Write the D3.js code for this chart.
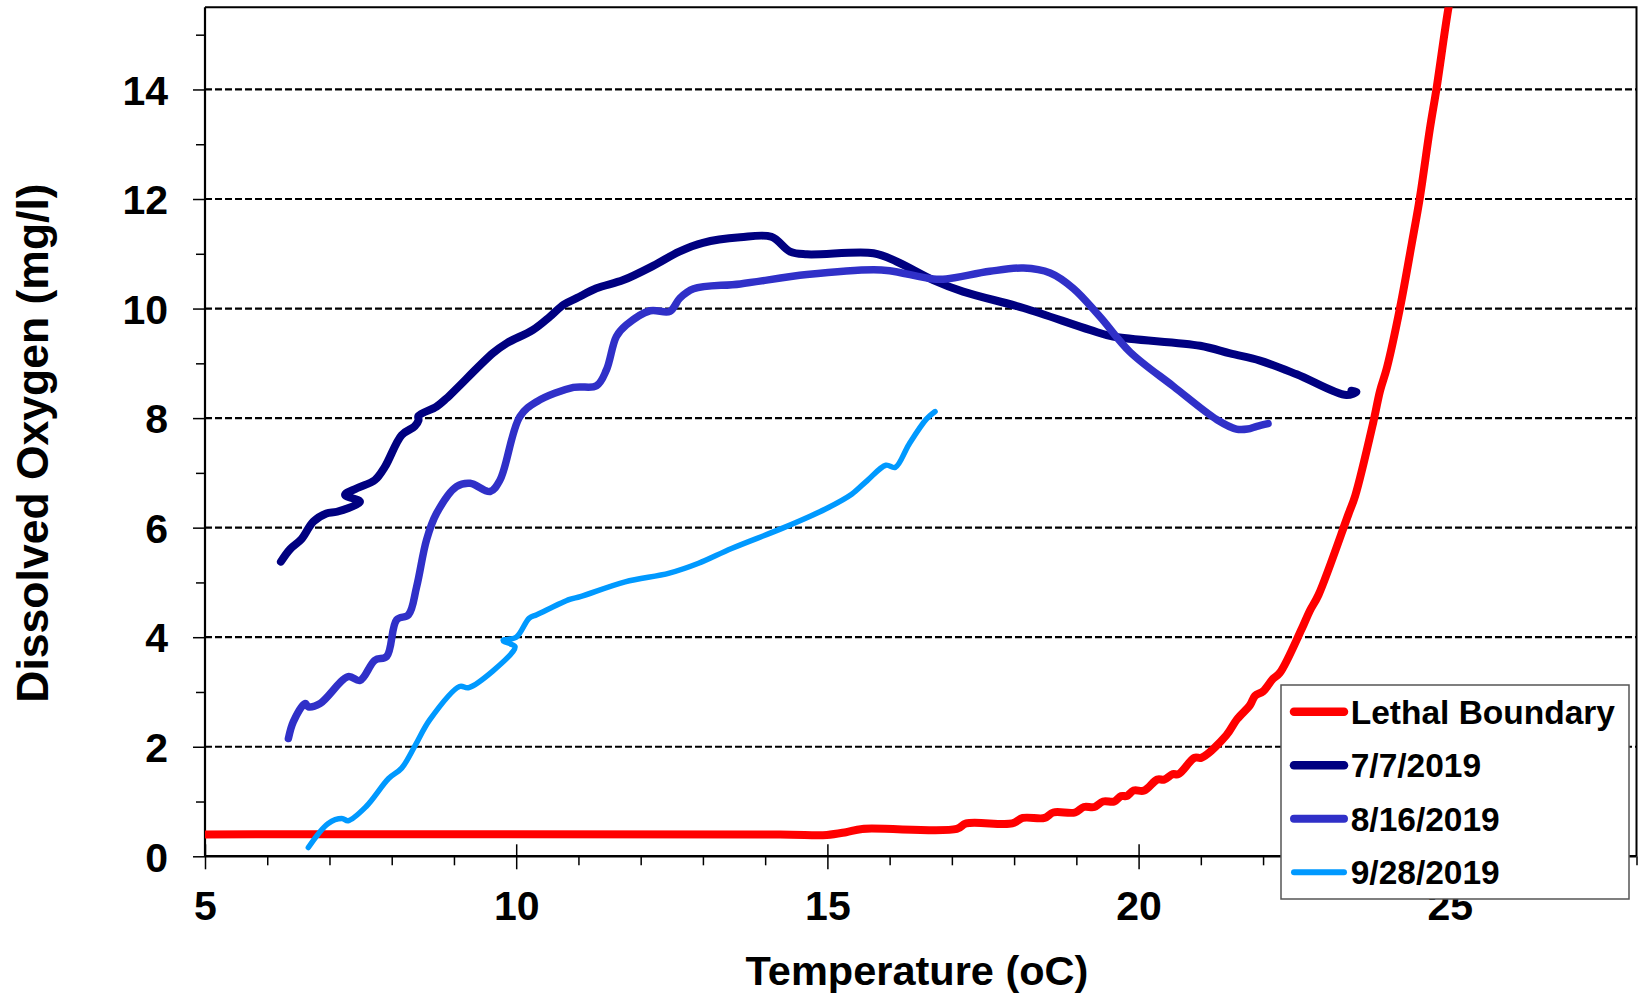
<!DOCTYPE html>
<html>
<head>
<meta charset="utf-8">
<script src="https://cdn.jsdelivr.net/npm/d3@7.9.0/dist/d3.min.js"></script>
<style>
  body { margin: 0; background: #fff; }
  svg { display: block; font-family: "Liberation Sans", Arial, sans-serif; font-weight: bold; }
</style>
</head>
<body>
<svg id="chart" width="1639" height="998"></svg>
<script>
// series names, in legend order
const seriesNames = ["Lethal Boundary", "7/7/2019", "8/16/2019", "9/28/2019"];

// lethal boundary (temperature, dissolved oxygen)
const lethalTemp = [5, 14.24, 14.99, 15.3, 15.56, 17.08, 17.23, 17.97, 18.14, 18.49, 18.63, 18.98, 19.12, 19.29,
  19.43, 19.61, 19.72, 19.81, 19.92, 20.09, 20.3, 20.41, 20.55, 20.64, 20.9, 21.01, 21.41, 21.58, 21.79, 21.87,
  22.0, 22.16, 22.27, 22.62, 22.75, 22.89, 23.37, 23.48, 23.77, 23.88, 23.99, 24.2, 24.39, 24.52, 24.68, 24.79,
  24.98, 25.1];
const lethalDO = [0.4, 0.4, 0.39, 0.44, 0.5, 0.5, 0.6, 0.6, 0.7, 0.7, 0.8, 0.8, 0.9, 0.9,
  1.0, 1.0, 1.1, 1.1, 1.2, 1.2, 1.4, 1.4, 1.5, 1.5, 1.8, 1.8, 2.21, 2.5, 2.76, 2.93,
  3.01, 3.24, 3.35, 4.15, 4.48, 4.77, 6.24, 6.58, 7.92, 8.5, 8.92, 10.01, 11.19, 12.03, 13.28, 14.04,
  15.5, 16.2];

// 7/7/2019 profile
const julTemp = [6.22, 6.37, 6.55, 6.74, 6.95, 7.12, 7.49, 7.25, 7.44, 7.73, 7.89, 8.16, 8.37, 8.43, 8.43,
  8.72, 8.88, 9.63, 9.85, 10.27, 10.54, 10.76, 10.97, 11.29, 11.72, 12.2, 12.62, 13.0, 13.6, 14.1, 14.4,
  14.67, 15.74, 16.11, 16.7, 17.18, 18.15, 19.22, 19.59, 20.99, 21.47, 21.95, 22.54, 23.34, 23.5, 23.42];
const julDO = [5.38, 5.61, 5.79, 6.11, 6.26, 6.29, 6.47, 6.6, 6.72, 6.87, 7.11, 7.69, 7.85, 7.96, 8.04,
  8.21, 8.36, 9.19, 9.37, 9.61, 9.85, 10.07, 10.19, 10.37, 10.52, 10.78, 11.04, 11.2, 11.3, 11.31, 11.04,
  10.99, 11.01, 10.86, 10.52, 10.31, 10.01, 9.61, 9.49, 9.32, 9.18, 9.05, 8.8, 8.42, 8.48, 8.5];

// 8/16/2019 profile
const augTemp = [6.34, 6.42, 6.61, 6.66, 6.85, 7.3, 7.49, 7.73, 7.92, 8.08, 8.27, 8.4, 8.56, 8.72, 9.04,
  9.26, 9.58, 9.74, 10.06, 10.33, 10.92, 11.29, 11.45, 11.61, 11.77, 12.15, 12.47, 12.63, 12.85, 13.6,
  14.67, 15.74, 16.0, 16.7, 16.91, 17.61, 18.15, 18.58, 18.95, 19.38, 19.86, 20.56, 21.26, 21.57, 21.75,
  21.9, 22.08];
const augDO = [2.15, 2.46, 2.79, 2.73, 2.79, 3.28, 3.21, 3.58, 3.65, 4.32, 4.41, 4.92, 5.78, 6.26, 6.75,
  6.81, 6.66, 6.87, 8.03, 8.3, 8.56, 8.59, 8.88, 9.49, 9.7, 9.96, 9.95, 10.19, 10.36, 10.45,
  10.62, 10.71, 10.69, 10.54, 10.54, 10.68, 10.74, 10.65, 10.37, 9.85, 9.21, 8.58, 7.97, 7.8, 7.8,
  7.85, 7.9];

// 9/28/2019 profile
const sepTemp = [6.66, 6.98, 7.2, 7.3, 7.59, 7.95, 8.16, 8.38, 8.61, 9.09, 9.24, 9.95, 9.98, 9.79, 10.0,
  10.21, 10.33, 10.86, 11.03, 11.75, 12.46, 12.93, 13.46, 14.3, 14.97, 15.39, 15.64, 15.94, 16.09, 16.31,
  16.59, 16.73];
const sepDO = [0.16, 0.6, 0.69, 0.65, 0.91, 1.42, 1.61, 2.03, 2.49, 3.1, 3.08, 3.74, 3.83, 3.94, 4.0,
  4.35, 4.41, 4.69, 4.74, 5.01, 5.17, 5.35, 5.62, 6.0, 6.34, 6.61, 6.86, 7.14, 7.1, 7.52,
  7.98, 8.12];

const xTicks = [5, 10, 15, 20, 25];
const yTicks = [0, 2, 4, 6, 8, 10, 12, 14];

const series = [
  { name: seriesNames[0], temp: lethalTemp, val: lethalDO },
  { name: seriesNames[1], temp: julTemp, val: julDO },
  { name: seriesNames[2], temp: augTemp, val: augDO },
  { name: seriesNames[3], temp: sepTemp, val: sepDO },
].map((s) => ({ ...s, points: s.temp.map((t, i) => [t, s.val[i]]) }));

const colors = ["#ff0000", "#000080", "#3030c8", "#0099ff"];
const widths = [8, 8, 7.5, 5.5];

const svg = d3.select("#chart");

const plot = { left: 205, right: 1636.5, top: 7.3, bottom: 856.3 };

const x = d3.scaleLinear().domain([5, 28]).range([plot.left, plot.right]);
const y = d3.scaleLinear().domain([0, 15.5]).range([plot.bottom, plot.top]);

svg.append("defs").append("clipPath").attr("id", "plot-clip")
  .append("rect")
  .attr("x", plot.left).attr("y", plot.top)
  .attr("width", plot.right - plot.left).attr("height", plot.bottom - plot.top);

// dashed gridlines
svg.append("g")
  .selectAll("line")
  .data(yTicks.filter((d) => d > 0))
  .join("line")
  .attr("x1", plot.left).attr("x2", plot.right)
  .attr("y1", (d) => y(d)).attr("y2", (d) => y(d))
  .attr("stroke", "#000")
  .attr("stroke-width", 2.2)
  .attr("stroke-dasharray", "7,3");

// frame top and right
svg.append("path")
  .attr("d", `M${plot.left},${plot.top}H${plot.right}V${plot.bottom}`)
  .attr("fill", "none")
  .attr("stroke", "#000")
  .attr("stroke-width", 2);

const labelStyle = (g) => g.selectAll("text")
  .attr("fill", "#000")
  .style("font-size", "41px")
  .style("font-family", "Liberation Sans, Arial, sans-serif")
  .style("font-weight", "bold");

// x axis: minor ticks
const minorX = d3.range(6, 29).filter((d) => d % 5 !== 0);
svg.append("g")
  .attr("transform", `translate(0,${plot.bottom})`)
  .call(d3.axisBottom(x).tickValues(minorX).tickFormat("").tickSize(9).tickSizeOuter(0))
  .call((g) => g.select(".domain").remove())
  .call((g) => g.selectAll("line").attr("stroke-width", 1.5));

// x axis: majors crossing the axis
svg.append("g")
  .attr("transform", `translate(0,${plot.bottom})`)
  .call(d3.axisTop(x).tickValues(xTicks).tickFormat("").tickSize(12).tickSizeOuter(0))
  .call((g) => g.select(".domain").remove())
  .call((g) => g.selectAll("line").attr("stroke-width", 1.5));

svg.append("g")
  .attr("transform", `translate(0,${plot.bottom})`)
  .call(d3.axisBottom(x).tickValues(xTicks).tickSize(13).tickSizeOuter(0))
  .call((g) => g.select(".domain").attr("d", `M${plot.left},0H${plot.right}`).attr("stroke-width", 2.5))
  .call((g) => g.selectAll("line").attr("stroke-width", 1.5))
  .call(labelStyle)
  .call((g) => g.selectAll("text").attr("y", 64).attr("dy", 0));

// y axis
const minorY = d3.range(1, 16, 2);
svg.append("g")
  .attr("transform", `translate(${plot.left},0)`)
  .call(d3.axisLeft(y).tickValues(minorY).tickFormat("").tickSize(9).tickSizeOuter(0))
  .call((g) => g.select(".domain").remove())
  .call((g) => g.selectAll("line").attr("stroke-width", 1.5));

svg.append("g")
  .attr("transform", `translate(${plot.left},0)`)
  .call(d3.axisLeft(y).tickValues(yTicks).tickSize(12).tickSizeOuter(0).tickPadding(25))
  .call((g) => g.select(".domain").attr("d", `M0,${plot.top}V${plot.bottom}`).attr("stroke-width", 2.2))
  .call((g) => g.selectAll("line").attr("stroke-width", 1.5))
  .call(labelStyle)
  .call((g) => g.selectAll("text").attr("dy", "0.36em"));

// axis titles
svg.append("text")
  .attr("x", 917).attr("y", 985)
  .attr("text-anchor", "middle")
  .style("font-size", "41.5px")
  .text("Temperature (oC)");

svg.append("text")
  .attr("transform", "translate(48,443) rotate(-90)")
  .attr("text-anchor", "middle")
  .style("font-size", "44.5px")
  .text("Dissolved Oxygen (mg/l)");

// lines
const line = d3.line()
  .x((d) => x(d[0]))
  .y((d) => y(d[1]))
  .curve(d3.curveCatmullRom.alpha(0.5));

svg.append("g")
  .attr("clip-path", "url(#plot-clip)")
  .selectAll("path")
  .data(series)
  .join("path")
  .attr("d", (d) => line(d.points))
  .attr("fill", "none")
  .attr("stroke", (d, i) => colors[i])
  .attr("stroke-width", (d, i) => widths[i])
  .attr("stroke-linecap", "round")
  .attr("stroke-linejoin", "round");

// legend
const legend = svg.append("g").attr("transform", "translate(1281,685)");

legend.append("rect")
  .attr("width", 348).attr("height", 214)
  .attr("fill", "#fff")
  .attr("stroke", "#555")
  .attr("stroke-width", 1.5);

const rows = legend.selectAll("g.row")
  .data(series)
  .join("g")
  .attr("class", "row")
  .attr("transform", (d, i) => `translate(0,${26.7 + i * 53.5})`);

rows.append("line")
  .attr("x1", 13).attr("x2", 63)
  .attr("stroke", (d, i) => colors[i])
  .attr("stroke-width", (d, i) => widths[i] + 0.5)
  .attr("stroke-linecap", "round");

rows.append("text")
  .attr("x", 69.7).attr("y", 12)
  .style("font-size", "33.5px")
  .text((d) => d.name);
</script>
</body>
</html>
